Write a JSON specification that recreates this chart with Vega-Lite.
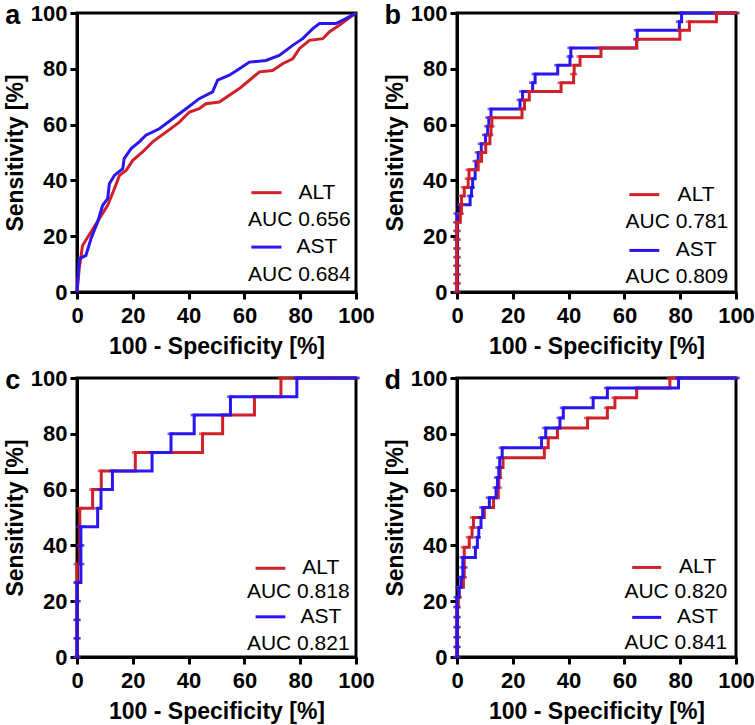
{
"$schema":"https://vega.github.io/schema/vega-lite/v6.json",
"background":"white",
"padding":{"left":2,"top":0,"right":0,"bottom":0},
"bounds":"flush",
"columns":2,
"spacing":{"row":86,"column":101},
"datasets":{
"auc":[{"p":"a","m":"ALT","auc":"AUC 0.656"},{"p":"a","m":"AST","auc":"AUC 0.684"},{"p":"b","m":"ALT","auc":"AUC 0.781"},{"p":"b","m":"AST","auc":"AUC 0.809"},{"p":"c","m":"ALT","auc":"AUC 0.818"},{"p":"c","m":"AST","auc":"AUC 0.821"},{"p":"d","m":"ALT","auc":"AUC 0.820"},{"p":"d","m":"AST","auc":"AUC 0.841"}],
"roc":[
{"p":"a","m":"ALT","x":0,"y":0},{"p":"a","m":"ALT","x":0.8,"y":8.4},{"p":"a","m":"ALT","x":2.0,"y":16.7},{"p":"a","m":"ALT","x":5.0,"y":21.5},{"p":"a","m":"ALT","x":8.0,"y":26.3},{"p":"a","m":"ALT","x":11.0,"y":31.1},{"p":"a","m":"ALT","x":13.4,"y":37.0},{"p":"a","m":"ALT","x":15.2,"y":41.8},{"p":"a","m":"ALT","x":17.6,"y":43.6},{"p":"a","m":"ALT","x":20.0,"y":47.2},{"p":"a","m":"ALT","x":23.5,"y":50.2},{"p":"a","m":"ALT","x":27.1,"y":53.8},{"p":"a","m":"ALT","x":31.9,"y":57.3},{"p":"a","m":"ALT","x":36.7,"y":60.9},{"p":"a","m":"ALT","x":40.3,"y":64.5},{"p":"a","m":"ALT","x":43.8,"y":65.7},{"p":"a","m":"ALT","x":46.2,"y":67.5},{"p":"a","m":"ALT","x":51.0,"y":68.1},{"p":"a","m":"ALT","x":54.6,"y":70.5},{"p":"a","m":"ALT","x":58.2,"y":72.9},{"p":"a","m":"ALT","x":61.8,"y":75.9},{"p":"a","m":"ALT","x":65.4,"y":78.9},{"p":"a","m":"ALT","x":70.1,"y":79.4},{"p":"a","m":"ALT","x":73.7,"y":81.8},{"p":"a","m":"ALT","x":77.3,"y":83.6},{"p":"a","m":"ALT","x":79.7,"y":87.2},{"p":"a","m":"ALT","x":83.3,"y":90.2},{"p":"a","m":"ALT","x":88.1,"y":90.8},{"p":"a","m":"ALT","x":90.4,"y":93.2},{"p":"a","m":"ALT","x":94.0,"y":95.6},{"p":"a","m":"ALT","x":96.4,"y":97.4},{"p":"a","m":"ALT","x":100,"y":100},
{"p":"a","m":"AST","x":0,"y":0},{"p":"a","m":"AST","x":0.8,"y":11.9},{"p":"a","m":"AST","x":3.2,"y":13.1},{"p":"a","m":"AST","x":5.0,"y":19.1},{"p":"a","m":"AST","x":7.4,"y":25.1},{"p":"a","m":"AST","x":9.2,"y":31.1},{"p":"a","m":"AST","x":11.0,"y":33.5},{"p":"a","m":"AST","x":11.6,"y":38.8},{"p":"a","m":"AST","x":13.4,"y":41.8},{"p":"a","m":"AST","x":16.4,"y":44.2},{"p":"a","m":"AST","x":16.9,"y":47.8},{"p":"a","m":"AST","x":19.4,"y":51.4},{"p":"a","m":"AST","x":22.3,"y":53.8},{"p":"a","m":"AST","x":24.7,"y":56.2},{"p":"a","m":"AST","x":29.5,"y":58.5},{"p":"a","m":"AST","x":34.3,"y":62.1},{"p":"a","m":"AST","x":39.1,"y":65.7},{"p":"a","m":"AST","x":43.8,"y":69.3},{"p":"a","m":"AST","x":48.6,"y":71.7},{"p":"a","m":"AST","x":50.4,"y":75.9},{"p":"a","m":"AST","x":54.6,"y":77.7},{"p":"a","m":"AST","x":58.2,"y":80.0},{"p":"a","m":"AST","x":61.8,"y":82.4},{"p":"a","m":"AST","x":67.7,"y":83.0},{"p":"a","m":"AST","x":72.5,"y":84.8},{"p":"a","m":"AST","x":77.3,"y":88.4},{"p":"a","m":"AST","x":80.9,"y":90.8},{"p":"a","m":"AST","x":84.5,"y":94.4},{"p":"a","m":"AST","x":86.9,"y":96.2},{"p":"a","m":"AST","x":92.8,"y":96.2},{"p":"a","m":"AST","x":96.4,"y":98.0},{"p":"a","m":"AST","x":100,"y":100},
{"p":"b","m":"AST","x":0,"y":0},{"p":"b","m":"AST","x":0,"y":3.1},{"p":"b","m":"AST","x":0,"y":6.3},{"p":"b","m":"AST","x":0,"y":9.4},{"p":"b","m":"AST","x":0,"y":12.5},{"p":"b","m":"AST","x":0,"y":15.6},{"p":"b","m":"AST","x":0,"y":18.8},{"p":"b","m":"AST","x":0,"y":21.9},{"p":"b","m":"AST","x":0,"y":25},{"p":"b","m":"AST","x":0,"y":28.1},{"p":"b","m":"AST","x":1.2,"y":31.3},{"p":"b","m":"AST","x":4.7,"y":34.4},{"p":"b","m":"AST","x":5.2,"y":37.5},{"p":"b","m":"AST","x":5.6,"y":40.6},{"p":"b","m":"AST","x":6.5,"y":43.8},{"p":"b","m":"AST","x":6.8,"y":46.9},{"p":"b","m":"AST","x":7.6,"y":50},{"p":"b","m":"AST","x":8.7,"y":53.1},{"p":"b","m":"AST","x":10.2,"y":56.3},{"p":"b","m":"AST","x":11.0,"y":59.4},{"p":"b","m":"AST","x":11.4,"y":62.5},{"p":"b","m":"AST","x":12.2,"y":65.6},{"p":"b","m":"AST","x":22.6,"y":68.8},{"p":"b","m":"AST","x":23.5,"y":71.9},{"p":"b","m":"AST","x":27.1,"y":75},{"p":"b","m":"AST","x":28.0,"y":78.1},{"p":"b","m":"AST","x":36.1,"y":81.3},{"p":"b","m":"AST","x":40.5,"y":84.4},{"p":"b","m":"AST","x":40.8,"y":87.5},{"p":"b","m":"AST","x":64.4,"y":90.6},{"p":"b","m":"AST","x":64.6,"y":93.8},{"p":"b","m":"AST","x":79.7,"y":96.9},{"p":"b","m":"AST","x":80.5,"y":100},{"p":"b","m":"AST","x":100,"y":100},
{"p":"b","m":"ALT","x":0,"y":0},{"p":"b","m":"ALT","x":0,"y":3.1},{"p":"b","m":"ALT","x":0,"y":6.3},{"p":"b","m":"ALT","x":0,"y":9.4},{"p":"b","m":"ALT","x":0,"y":12.5},{"p":"b","m":"ALT","x":0,"y":15.6},{"p":"b","m":"ALT","x":0,"y":18.8},{"p":"b","m":"ALT","x":0,"y":21.9},{"p":"b","m":"ALT","x":0,"y":25},{"p":"b","m":"ALT","x":1.2,"y":28.1},{"p":"b","m":"ALT","x":1.6,"y":31.3},{"p":"b","m":"ALT","x":1.6,"y":34.4},{"p":"b","m":"ALT","x":2.6,"y":37.5},{"p":"b","m":"ALT","x":4.0,"y":40.6},{"p":"b","m":"ALT","x":4.3,"y":43.8},{"p":"b","m":"ALT","x":7.6,"y":46.9},{"p":"b","m":"ALT","x":8.8,"y":50},{"p":"b","m":"ALT","x":10.3,"y":53.1},{"p":"b","m":"ALT","x":11.8,"y":56.3},{"p":"b","m":"ALT","x":12.2,"y":59.4},{"p":"b","m":"ALT","x":12.5,"y":62.5},{"p":"b","m":"ALT","x":23.3,"y":65.6},{"p":"b","m":"ALT","x":24.2,"y":68.8},{"p":"b","m":"ALT","x":25.9,"y":71.9},{"p":"b","m":"ALT","x":37.3,"y":75},{"p":"b","m":"ALT","x":41.8,"y":78.1},{"p":"b","m":"ALT","x":42.0,"y":81.3},{"p":"b","m":"ALT","x":44.1,"y":84.4},{"p":"b","m":"ALT","x":51.6,"y":87.5},{"p":"b","m":"ALT","x":64.4,"y":90.6},{"p":"b","m":"ALT","x":79.9,"y":93.8},{"p":"b","m":"ALT","x":83.3,"y":96.9},{"p":"b","m":"ALT","x":93.0,"y":100},{"p":"b","m":"ALT","x":100,"y":100},
{"p":"c","m":"ALT","x":0,"y":0},{"p":"c","m":"ALT","x":0,"y":6.7},{"p":"c","m":"ALT","x":0,"y":13.3},{"p":"c","m":"ALT","x":0,"y":20},{"p":"c","m":"ALT","x":0,"y":26.7},{"p":"c","m":"ALT","x":0,"y":33.3},{"p":"c","m":"ALT","x":1.0,"y":40},{"p":"c","m":"ALT","x":1.0,"y":46.7},{"p":"c","m":"ALT","x":1.0,"y":53.3},{"p":"c","m":"ALT","x":5.6,"y":60},{"p":"c","m":"ALT","x":8.7,"y":66.7},{"p":"c","m":"ALT","x":20.9,"y":73.3},{"p":"c","m":"ALT","x":45.0,"y":80},{"p":"c","m":"ALT","x":52.2,"y":86.7},{"p":"c","m":"ALT","x":63.6,"y":93.3},{"p":"c","m":"ALT","x":73.1,"y":100},{"p":"c","m":"ALT","x":91.6,"y":100},{"p":"c","m":"ALT","x":100,"y":100},
{"p":"c","m":"AST","x":0,"y":0},{"p":"c","m":"AST","x":0,"y":6.7},{"p":"c","m":"AST","x":0,"y":13.3},{"p":"c","m":"AST","x":0,"y":20},{"p":"c","m":"AST","x":0,"y":26.7},{"p":"c","m":"AST","x":1.4,"y":33.3},{"p":"c","m":"AST","x":1.4,"y":40},{"p":"c","m":"AST","x":1.4,"y":46.7},{"p":"c","m":"AST","x":7.4,"y":53.3},{"p":"c","m":"AST","x":8.6,"y":60},{"p":"c","m":"AST","x":12.7,"y":66.7},{"p":"c","m":"AST","x":26.9,"y":73.3},{"p":"c","m":"AST","x":33.7,"y":80},{"p":"c","m":"AST","x":42.0,"y":86.7},{"p":"c","m":"AST","x":55.0,"y":93.3},{"p":"c","m":"AST","x":78.8,"y":100},{"p":"c","m":"AST","x":100,"y":100},
{"p":"d","m":"ALT","x":0,"y":0},{"p":"d","m":"ALT","x":0,"y":3.6},{"p":"d","m":"ALT","x":0,"y":7.1},{"p":"d","m":"ALT","x":0,"y":10.7},{"p":"d","m":"ALT","x":0,"y":14.3},{"p":"d","m":"ALT","x":0,"y":17.9},{"p":"d","m":"ALT","x":0.5,"y":21.4},{"p":"d","m":"ALT","x":0.8,"y":25},{"p":"d","m":"ALT","x":2.3,"y":28.6},{"p":"d","m":"ALT","x":2.6,"y":32.1},{"p":"d","m":"ALT","x":2.6,"y":35.7},{"p":"d","m":"ALT","x":2.6,"y":39.3},{"p":"d","m":"ALT","x":4.4,"y":42.9},{"p":"d","m":"ALT","x":5.4,"y":46.4},{"p":"d","m":"ALT","x":5.9,"y":50},{"p":"d","m":"ALT","x":9.8,"y":53.6},{"p":"d","m":"ALT","x":13.1,"y":57.1},{"p":"d","m":"ALT","x":14.8,"y":60.7},{"p":"d","m":"ALT","x":15.0,"y":64.3},{"p":"d","m":"ALT","x":15.5,"y":67.9},{"p":"d","m":"ALT","x":16.5,"y":71.4},{"p":"d","m":"ALT","x":31.3,"y":75},{"p":"d","m":"ALT","x":32.7,"y":78.6},{"p":"d","m":"ALT","x":36.0,"y":82.1},{"p":"d","m":"ALT","x":46.8,"y":85.7},{"p":"d","m":"ALT","x":53.9,"y":89.3},{"p":"d","m":"ALT","x":56.6,"y":92.9},{"p":"d","m":"ALT","x":64.4,"y":96.4},{"p":"d","m":"ALT","x":76.3,"y":100},{"p":"d","m":"ALT","x":100,"y":100},
{"p":"d","m":"AST","x":0,"y":0},{"p":"d","m":"AST","x":0,"y":3.6},{"p":"d","m":"AST","x":0,"y":7.1},{"p":"d","m":"AST","x":0,"y":10.7},{"p":"d","m":"AST","x":0,"y":14.3},{"p":"d","m":"AST","x":0,"y":17.9},{"p":"d","m":"AST","x":0,"y":21.4},{"p":"d","m":"AST","x":0.7,"y":25},{"p":"d","m":"AST","x":1.4,"y":28.6},{"p":"d","m":"AST","x":2.1,"y":32.1},{"p":"d","m":"AST","x":2.1,"y":35.7},{"p":"d","m":"AST","x":6.6,"y":39.3},{"p":"d","m":"AST","x":7.3,"y":42.9},{"p":"d","m":"AST","x":7.8,"y":46.4},{"p":"d","m":"AST","x":8.6,"y":50},{"p":"d","m":"AST","x":9.2,"y":53.6},{"p":"d","m":"AST","x":11.6,"y":57.1},{"p":"d","m":"AST","x":14.0,"y":60.7},{"p":"d","m":"AST","x":14.5,"y":64.3},{"p":"d","m":"AST","x":15.0,"y":67.9},{"p":"d","m":"AST","x":15.3,"y":71.4},{"p":"d","m":"AST","x":16.2,"y":75},{"p":"d","m":"AST","x":30.3,"y":78.6},{"p":"d","m":"AST","x":31.8,"y":82.1},{"p":"d","m":"AST","x":36.9,"y":85.7},{"p":"d","m":"AST","x":38.1,"y":89.3},{"p":"d","m":"AST","x":48.8,"y":92.9},{"p":"d","m":"AST","x":53.9,"y":96.4},{"p":"d","m":"AST","x":79.4,"y":100},{"p":"d","m":"AST","x":100,"y":100}
]},
"concat":[
{"width":279,"height":279,
 "layer":[
  {"encoding":{
    "x":{"field":"x","type":"quantitative","scale":{"domain":[0,100],"nice":false},"axis":{"values":[0,20,40,60,80,100],"title":"100 - Specificity [%]"}},
    "y":{"field":"y","type":"quantitative","scale":{"domain":[0,100],"nice":false},"axis":{"values":[0,20,40,60,80,100],"title":"Sensitivity [%]"}},
    "color":{"field":"m","type":"nominal","scale":{"domain":["ALT","AST"],"range":["#d0202a","#2a16f0"]},"legend":null},
    "order":{"field":"x"}},
   "layer":[
    {"data":{"name":"roc"},"transform":[{"filter":"datum.p=='a' && datum.m=='ALT'"}],"mark":{"type":"line","strokeWidth":3}},
    {"data":{"name":"roc"},"transform":[{"filter":"datum.p=='a' && datum.m=='AST'"}],"mark":{"type":"line","strokeWidth":3}}
   ]},
  {"data":{"name":"auc"},"transform":[{"filter":"datum.p=='a' && datum.m=='ALT'"}],"mark":{"type":"rule","strokeWidth":3},"encoding":{"x":{"datum":62.5,"type":"quantitative"},"x2":{"datum":73.3},"y":{"datum":35.6,"type":"quantitative"},"color":{"field":"m","type":"nominal","legend":null}}},
  {"data":{"name":"auc"},"transform":[{"filter":"datum.p=='a' && datum.m=='AST'"}],"mark":{"type":"rule","strokeWidth":3},"encoding":{"x":{"datum":62.5,"type":"quantitative"},"x2":{"datum":73.3},"y":{"datum":16.1,"type":"quantitative"},"color":{"field":"m","type":"nominal","legend":null}}},
  {"data":{"name":"auc"},"transform":[{"filter":"datum.p=='a' && datum.m=='ALT'"}],"mark":{"type":"text","baseline":"middle","color":"#000"},"encoding":{"x":{"datum":86,"type":"quantitative"},"y":{"datum":35.6,"type":"quantitative"},"text":{"field":"m"}}},
  {"data":{"name":"auc"},"transform":[{"filter":"datum.p=='a' && datum.m=='AST'"}],"mark":{"type":"text","baseline":"middle","color":"#000"},"encoding":{"x":{"datum":86,"type":"quantitative"},"y":{"datum":16.1,"type":"quantitative"},"text":{"field":"m"}}},
  {"data":{"name":"auc"},"transform":[{"filter":"datum.p=='a' && datum.m=='ALT'"}],"mark":{"type":"text","baseline":"middle","color":"#000"},"encoding":{"x":{"datum":79.7,"type":"quantitative"},"y":{"datum":25.7,"type":"quantitative"},"text":{"field":"auc"}}},
  {"data":{"name":"auc"},"transform":[{"filter":"datum.p=='a' && datum.m=='AST'"}],"mark":{"type":"text","baseline":"middle","color":"#000"},"encoding":{"x":{"datum":79.7,"type":"quantitative"},"y":{"datum":6.1,"type":"quantitative"},"text":{"field":"auc"}}},
  {"data":{"name":"auc"},"transform":[{"filter":"datum.p=='a' && datum.m=='ALT'"}],"mark":{"type":"text","fontSize":27,"fontWeight":"bold","baseline":"alphabetic","color":"#000"},"encoding":{"x":{"datum":-23,"type":"quantitative"},"y":{"datum":96,"type":"quantitative"},"text":{"field":"p"}}}
 ]},
{"width":279,"height":279,
 "layer":[
  {"encoding":{
    "x":{"field":"x","type":"quantitative","scale":{"domain":[0,100],"nice":false},"axis":{"values":[0,20,40,60,80,100],"title":"100 - Specificity [%]"}},
    "y":{"field":"y","type":"quantitative","scale":{"domain":[0,100],"nice":false},"axis":{"values":[0,20,40,60,80,100],"title":"Sensitivity [%]"}},
    "color":{"field":"m","type":"nominal","scale":{"domain":["ALT","AST"],"range":["#d0202a","#2a16f0"]},"legend":null}},
   "layer":[
    {"data":{"name":"roc"},"transform":[{"filter":"datum.p=='b' && datum.m=='AST'"}],"mark":{"type":"line","strokeWidth":3,"interpolate":"step-after"},"encoding":{"order":{"field":"y"}}},
    {"data":{"name":"roc"},"transform":[{"filter":"datum.p=='b' && datum.m=='AST'"}],"mark":{"type":"tick","orient":"horizontal","size":7,"thickness":2.5}},
    {"data":{"name":"roc"},"transform":[{"filter":"datum.p=='b' && datum.m=='ALT'"}],"mark":{"type":"line","strokeWidth":3,"interpolate":"step-after"},"encoding":{"order":{"field":"y"}}},
    {"data":{"name":"roc"},"transform":[{"filter":"datum.p=='b' && datum.m=='ALT'"}],"mark":{"type":"tick","orient":"horizontal","size":7,"thickness":2.5}}
   ]},
  {"data":{"name":"auc"},"transform":[{"filter":"datum.p=='b' && datum.m=='ALT'"}],"mark":{"type":"rule","strokeWidth":3},"encoding":{"x":{"datum":61.8,"type":"quantitative"},"x2":{"datum":72.5},"y":{"datum":34.9,"type":"quantitative"},"color":{"field":"m","type":"nominal","legend":null}}},
  {"data":{"name":"auc"},"transform":[{"filter":"datum.p=='b' && datum.m=='AST'"}],"mark":{"type":"rule","strokeWidth":3},"encoding":{"x":{"datum":61.8,"type":"quantitative"},"x2":{"datum":72.5},"y":{"datum":14.9,"type":"quantitative"},"color":{"field":"m","type":"nominal","legend":null}}},
  {"data":{"name":"auc"},"transform":[{"filter":"datum.p=='b' && datum.m=='ALT'"}],"mark":{"type":"text","baseline":"middle","color":"#000"},"encoding":{"x":{"datum":85.7,"type":"quantitative"},"y":{"datum":34.9,"type":"quantitative"},"text":{"field":"m"}}},
  {"data":{"name":"auc"},"transform":[{"filter":"datum.p=='b' && datum.m=='AST'"}],"mark":{"type":"text","baseline":"middle","color":"#000"},"encoding":{"x":{"datum":85.7,"type":"quantitative"},"y":{"datum":14.9,"type":"quantitative"},"text":{"field":"m"}}},
  {"data":{"name":"auc"},"transform":[{"filter":"datum.p=='b' && datum.m=='ALT'"}],"mark":{"type":"text","baseline":"middle","color":"#000"},"encoding":{"x":{"datum":78.8,"type":"quantitative"},"y":{"datum":25.1,"type":"quantitative"},"text":{"field":"auc"}}},
  {"data":{"name":"auc"},"transform":[{"filter":"datum.p=='b' && datum.m=='AST'"}],"mark":{"type":"text","baseline":"middle","color":"#000"},"encoding":{"x":{"datum":78.8,"type":"quantitative"},"y":{"datum":5.4,"type":"quantitative"},"text":{"field":"auc"}}},
  {"data":{"name":"auc"},"transform":[{"filter":"datum.p=='b' && datum.m=='ALT'"}],"mark":{"type":"text","fontSize":27,"fontWeight":"bold","baseline":"alphabetic","color":"#000"},"encoding":{"x":{"datum":-23,"type":"quantitative"},"y":{"datum":96,"type":"quantitative"},"text":{"field":"p"}}}
 ]},
{"width":279,"height":279,
 "layer":[
  {"encoding":{
    "x":{"field":"x","type":"quantitative","scale":{"domain":[0,100],"nice":false},"axis":{"values":[0,20,40,60,80,100],"title":"100 - Specificity [%]"}},
    "y":{"field":"y","type":"quantitative","scale":{"domain":[0,100],"nice":false},"axis":{"values":[0,20,40,60,80,100],"title":"Sensitivity [%]"}},
    "color":{"field":"m","type":"nominal","scale":{"domain":["ALT","AST"],"range":["#d0202a","#2a16f0"]},"legend":null}},
   "layer":[
    {"data":{"name":"roc"},"transform":[{"filter":"datum.p=='c' && datum.m=='ALT'"}],"mark":{"type":"line","strokeWidth":3,"interpolate":"step-after"},"encoding":{"order":{"field":"y"}}},
    {"data":{"name":"roc"},"transform":[{"filter":"datum.p=='c' && datum.m=='ALT'"}],"mark":{"type":"tick","orient":"horizontal","size":7,"thickness":2.5}},
    {"data":{"name":"roc"},"transform":[{"filter":"datum.p=='c' && datum.m=='AST'"}],"mark":{"type":"line","strokeWidth":3,"interpolate":"step-after"},"encoding":{"order":{"field":"y"}}},
    {"data":{"name":"roc"},"transform":[{"filter":"datum.p=='c' && datum.m=='AST'"}],"mark":{"type":"tick","orient":"horizontal","size":7,"thickness":2.5}}
   ]},
  {"data":{"name":"auc"},"transform":[{"filter":"datum.p=='c' && datum.m=='ALT'"}],"mark":{"type":"rule","strokeWidth":3},"encoding":{"x":{"datum":64,"type":"quantitative"},"x2":{"datum":74.7},"y":{"datum":31.8,"type":"quantitative"},"color":{"field":"m","type":"nominal","legend":null}}},
  {"data":{"name":"auc"},"transform":[{"filter":"datum.p=='c' && datum.m=='AST'"}],"mark":{"type":"rule","strokeWidth":3},"encoding":{"x":{"datum":64,"type":"quantitative"},"x2":{"datum":74.7},"y":{"datum":14.4,"type":"quantitative"},"color":{"field":"m","type":"nominal","legend":null}}},
  {"data":{"name":"auc"},"transform":[{"filter":"datum.p=='c' && datum.m=='ALT'"}],"mark":{"type":"text","baseline":"middle","color":"#000"},"encoding":{"x":{"datum":87.4,"type":"quantitative"},"y":{"datum":31.8,"type":"quantitative"},"text":{"field":"m"}}},
  {"data":{"name":"auc"},"transform":[{"filter":"datum.p=='c' && datum.m=='AST'"}],"mark":{"type":"text","baseline":"middle","color":"#000"},"encoding":{"x":{"datum":87.4,"type":"quantitative"},"y":{"datum":14.4,"type":"quantitative"},"text":{"field":"m"}}},
  {"data":{"name":"auc"},"transform":[{"filter":"datum.p=='c' && datum.m=='ALT'"}],"mark":{"type":"text","baseline":"middle","color":"#000"},"encoding":{"x":{"datum":79.3,"type":"quantitative"},"y":{"datum":23.4,"type":"quantitative"},"text":{"field":"auc"}}},
  {"data":{"name":"auc"},"transform":[{"filter":"datum.p=='c' && datum.m=='AST'"}],"mark":{"type":"text","baseline":"middle","color":"#000"},"encoding":{"x":{"datum":79.3,"type":"quantitative"},"y":{"datum":4.8,"type":"quantitative"},"text":{"field":"auc"}}},
  {"data":{"name":"auc"},"transform":[{"filter":"datum.p=='c' && datum.m=='ALT'"}],"mark":{"type":"text","fontSize":27,"fontWeight":"bold","baseline":"alphabetic","color":"#000"},"encoding":{"x":{"datum":-23,"type":"quantitative"},"y":{"datum":96,"type":"quantitative"},"text":{"field":"p"}}}
 ]},
{"width":279,"height":279,
 "layer":[
  {"encoding":{
    "x":{"field":"x","type":"quantitative","scale":{"domain":[0,100],"nice":false},"axis":{"values":[0,20,40,60,80,100],"title":"100 - Specificity [%]"}},
    "y":{"field":"y","type":"quantitative","scale":{"domain":[0,100],"nice":false},"axis":{"values":[0,20,40,60,80,100],"title":"Sensitivity [%]"}},
    "color":{"field":"m","type":"nominal","scale":{"domain":["ALT","AST"],"range":["#d0202a","#2a16f0"]},"legend":null}},
   "layer":[
    {"data":{"name":"roc"},"transform":[{"filter":"datum.p=='d' && datum.m=='ALT'"}],"mark":{"type":"line","strokeWidth":3,"interpolate":"step-after"},"encoding":{"order":{"field":"y"}}},
    {"data":{"name":"roc"},"transform":[{"filter":"datum.p=='d' && datum.m=='ALT'"}],"mark":{"type":"tick","orient":"horizontal","size":7,"thickness":2.5}},
    {"data":{"name":"roc"},"transform":[{"filter":"datum.p=='d' && datum.m=='AST'"}],"mark":{"type":"line","strokeWidth":3,"interpolate":"step-after"},"encoding":{"order":{"field":"y"}}},
    {"data":{"name":"roc"},"transform":[{"filter":"datum.p=='d' && datum.m=='AST'"}],"mark":{"type":"tick","orient":"horizontal","size":7,"thickness":2.5}}
   ]},
  {"data":{"name":"auc"},"transform":[{"filter":"datum.p=='d' && datum.m=='ALT'"}],"mark":{"type":"rule","strokeWidth":3},"encoding":{"x":{"datum":62.8,"type":"quantitative"},"x2":{"datum":73.2},"y":{"datum":32.1,"type":"quantitative"},"color":{"field":"m","type":"nominal","legend":null}}},
  {"data":{"name":"auc"},"transform":[{"filter":"datum.p=='d' && datum.m=='AST'"}],"mark":{"type":"rule","strokeWidth":3},"encoding":{"x":{"datum":62.8,"type":"quantitative"},"x2":{"datum":73.2},"y":{"datum":14.2,"type":"quantitative"},"color":{"field":"m","type":"nominal","legend":null}}},
  {"data":{"name":"auc"},"transform":[{"filter":"datum.p=='d' && datum.m=='ALT'"}],"mark":{"type":"text","baseline":"middle","color":"#000"},"encoding":{"x":{"datum":86.2,"type":"quantitative"},"y":{"datum":32.1,"type":"quantitative"},"text":{"field":"m"}}},
  {"data":{"name":"auc"},"transform":[{"filter":"datum.p=='d' && datum.m=='AST'"}],"mark":{"type":"text","baseline":"middle","color":"#000"},"encoding":{"x":{"datum":86.2,"type":"quantitative"},"y":{"datum":14.2,"type":"quantitative"},"text":{"field":"m"}}},
  {"data":{"name":"auc"},"transform":[{"filter":"datum.p=='d' && datum.m=='ALT'"}],"mark":{"type":"text","baseline":"middle","color":"#000"},"encoding":{"x":{"datum":78.4,"type":"quantitative"},"y":{"datum":23.4,"type":"quantitative"},"text":{"field":"auc"}}},
  {"data":{"name":"auc"},"transform":[{"filter":"datum.p=='d' && datum.m=='AST'"}],"mark":{"type":"text","baseline":"middle","color":"#000"},"encoding":{"x":{"datum":78.4,"type":"quantitative"},"y":{"datum":4.9,"type":"quantitative"},"text":{"field":"auc"}}},
  {"data":{"name":"auc"},"transform":[{"filter":"datum.p=='d' && datum.m=='ALT'"}],"mark":{"type":"text","fontSize":27,"fontWeight":"bold","baseline":"alphabetic","color":"#000"},"encoding":{"x":{"datum":-23,"type":"quantitative"},"y":{"datum":96,"type":"quantitative"},"text":{"field":"p"}}}
 ]}
],
"config":{
 "font":"Liberation Sans",
 "view":{"stroke":"#000","strokeWidth":3},
 "text":{"font":"Liberation Sans","fontSize":21},
 "axis":{"domainColor":"#000","domainWidth":3,"tickColor":"#000","tickWidth":3,"tickSize":7,"labelFont":"Liberation Sans","labelFontSize":22,"labelFontWeight":"bold","labelColor":"#000","labelPadding":3,"labelFlush":false,"labelOverlap":false,"titleFont":"Liberation Sans","titleFontSize":23,"titleFontWeight":"bold","titleColor":"#000","grid":false},
 "axisX":{"titlePadding":9,"labelPadding":6},
 "axisY":{"titlePadding":3}
}
}
